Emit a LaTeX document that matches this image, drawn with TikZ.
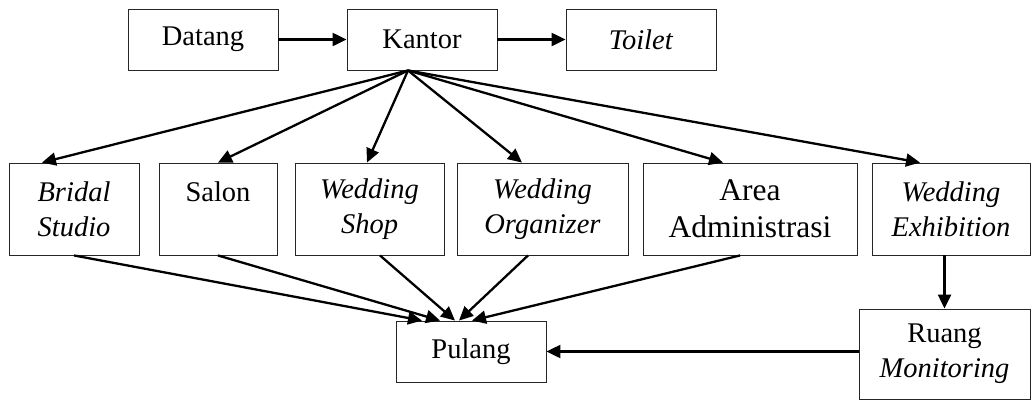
\documentclass[tikz,border=0pt]{standalone}
\usepackage{fontspec}
\setmainfont{Liberation Serif}
\usetikzlibrary{arrows.meta,calc}

\begin{document}
\begin{tikzpicture}[x=1pt,y=-1pt,
    box/.style={draw=black!85,line width=0.9pt,inner sep=0pt,align=center,
      font=\fontsize{28.5}{35}\selectfont},
    bigtext/.style={font=\fontsize{31.5}{37}\selectfont},
    flow/.style={line width=2.3pt,-{Triangle[length=14pt,width=13pt]}}]
  \useasboundingbox (0,0) rectangle (1032,400);

  % top row
  \node[box,minimum width=150,minimum height=61] (datang) at (203,39.5) {Datang};
  \node[box,minimum width=150,minimum height=61] (kantor) at (422,39.5) {Kantor};
  \node[box,minimum width=150,minimum height=61] (toilet) at (641,39.5) {\textit{Toilet}};

  % middle row
  \node[box,minimum width=130,minimum height=92] (bridal) at (74,209) {\textit{Bridal}\\\textit{Studio}};
  \node[box,minimum width=118,minimum height=92] (salon) at (218,209) {Salon\\\mbox{}};
  \node[box,minimum width=149,minimum height=92] (shop) at (369.5,209) {\textit{Wedding}\\\textit{Shop}};
  \node[box,minimum width=171,minimum height=92] (org) at (542.5,209) {\textit{Wedding}\\\textit{Organizer}};
  \node[box,bigtext,minimum width=214,minimum height=92] (area) at (750,209) {Area\\Administrasi};
  \node[box,minimum width=158,minimum height=92] (exhib) at (951,209) {\textit{Wedding}\\\textit{Exhibition}};

  % bottom row
  \node[box,minimum width=150,minimum height=61] (pulang) at (471,351.5) {Pulang};
  \node[box,minimum width=171,minimum height=90] (ruang) at (944.5,354) {Ruang\\\textit{Monitoring}};

  % connectors
  \draw[flow] (datang) -- (kantor);
  \draw[flow] (kantor) -- (toilet);

  \coordinate (fan) at ([xshift=-14pt]kantor.south);
  \draw[flow] (fan) -- ([xshift=-32pt]bridal.north);
  \draw[flow] (fan) -- (salon.north);
  \draw[flow] (fan) -- ([xshift=-2.5pt]shop.north);
  \draw[flow] (fan) -- ([xshift=-20.5pt]org.north);
  \draw[flow] (fan) -- ([xshift=-27pt]area.north);
  \draw[flow] (fan) -- ([xshift=-31pt]exhib.north);

  \draw[flow] (bridal.south) -- ([xshift=-49pt]pulang.north);
  \draw[flow] (salon.south) -- ([xshift=-31pt]pulang.north);
  \draw[flow] ([xshift=10.5pt]shop.south) -- ([xshift=-16pt]pulang.north);
  \draw[flow] ([xshift=-14.5pt]org.south) -- ([xshift=-12pt]pulang.north);
  \draw[flow] ([xshift=-10pt]area.south) -- ([xshift=1pt]pulang.north);

  \draw[flow] (exhib.south -| ruang.north) -- (ruang.north);
  \draw[flow] (ruang.west |- pulang.east) -- (pulang.east);
\end{tikzpicture}
\end{document}
